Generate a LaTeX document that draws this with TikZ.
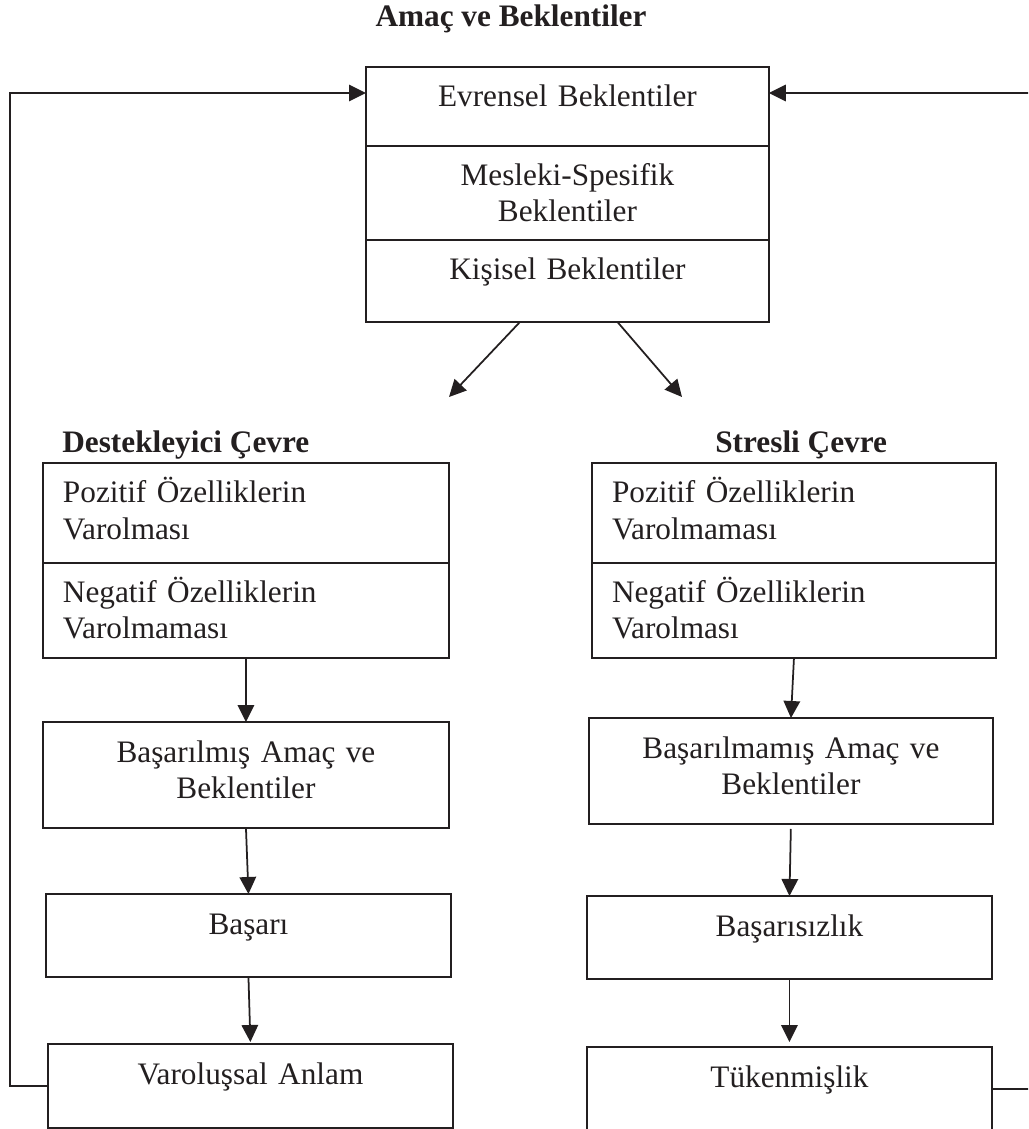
\documentclass[tikz,border=0pt]{standalone}
\usepackage{fontspec}
\setmainfont{Liberation Serif}
\usetikzlibrary{arrows.meta}
\definecolor{ink}{RGB}{35,31,32}
\begin{document}
\begin{tikzpicture}[x=0.02cm, y=-0.02cm]
    \tikzset{Box/.style={%
        draw=ink,%
        text=ink,%
        line width=1pt,%
        outer sep=0pt,%
        anchor=north west,%
        inner ysep=0pt,%
        inner xsep=0.2cm,%
        align=center,%
        text height=0.8cm,%
        font=\fontsize{17.8}{20.5}\selectfont,%
    },
    LeftBox/.style={Box, inner xsep=0.4cm, align=left},
    Head/.style={text=ink, inner sep=0pt, font=\fontsize{17.8}{20.5}\selectfont\bfseries},
    Link/.style={draw=ink, line width=1pt, -{Triangle[length=0.34cm, width=0.33cm]}},
    }

    \useasboundingbox (0,0) rectangle (1028,1129);
    \clip (0,0) rectangle (1028,1129);

    \node[Head, anchor=base] (title) at (511,27) {Amaç ve Beklentiler};

    % expectations
    \node[Box, text width=7.66cm, text depth=0.78cm] (evrensel) at (366,67) {Evrensel Beklentiler};
    \node[Box, text width=7.66cm, text depth=1.08cm] (mesleki) at (evrensel.south west) {Mesleki-Spesifik\\Beklentiler};
    \node[Box, text width=7.66cm, text depth=0.84cm] (kisisel) at (mesleki.south west) {Kişisel Beklentiler};

    \coordinate (dl) at (449,397);
    \coordinate (dr) at (682,397);
    \draw[Link] ([xshift=-0.95cm]kisisel.south) -- (dl);
    \draw[Link] ([xshift=1cm]kisisel.south) -- (dr);

    % supportive side
    \node[Head, anchor=base west] (destek) at (62,452) {Destekleyici Çevre};
    \node[LeftBox, text width=7.32cm, text depth=1.2cm] (lpoz) at (43,463) {Pozitif Özelliklerin\\Varolması};
    \node[LeftBox, text width=7.32cm, text depth=1.1cm] (lneg) at (lpoz.south west) {Negatif Özelliklerin\\Varolmaması};
    \node[Box, text width=7.72cm, text depth=1.32cm] (lbas) at (43,722) {Başarılmış Amaç ve\\Beklentiler};
    \node[Box, text width=7.7cm, text depth=0.86cm] (lsuc) at (46,894) {Başarı};
    \node[Box, text width=7.7cm, text depth=0.88cm] (lvar) at (48,1044) {Varoluşsal Anlam};

    % stressful side
    \node[Head, anchor=base west] (stres) at (715,452) {Stresli Çevre};
    \node[LeftBox, text width=7.28cm, text depth=1.2cm] (rpoz) at (592,463) {Pozitif Özelliklerin\\Varolmaması};
    \node[LeftBox, text width=7.28cm, text depth=1.1cm] (rneg) at (rpoz.south west) {Negatif Özelliklerin\\Varolması};
    \node[Box, text width=7.68cm, text depth=1.32cm] (rbas) at (589,718) {Başarılmamış Amaç ve\\Beklentiler};
    \node[Box, text width=7.7cm, text depth=0.86cm] (rfail) at (587,896) {Başarısızlık};
    \node[Box, text width=7.7cm, text depth=0.88cm] (rtuk) at (587,1047) {Tükenmişlik};

    \draw[Link] (lneg.south) -- (lbas.north);
    \draw[Link] (lbas.south) -- (lsuc.north);
    \draw[Link, shorten >=0.04cm] (lsuc.south) -- (lvar.north);

    \draw[Link] (rneg.south) -- (rbas.north);
    \draw[Link, shorten <=0.1cm] (rbas.south) -- (rfail.north);
    \draw[Link, shorten >=0.1cm] (rfail.south) -- (rtuk.north);

    % feedback loops
    \coordinate (backL) at (10,93);
    \coordinate (backR) at (1032,93);
    \draw[Link] (lvar.west) -| (backL) -- (evrensel.west |- backL);
    \draw[Link] (rtuk.east) -| (backR) -- (evrensel.east |- backR);
\end{tikzpicture}
\end{document}
